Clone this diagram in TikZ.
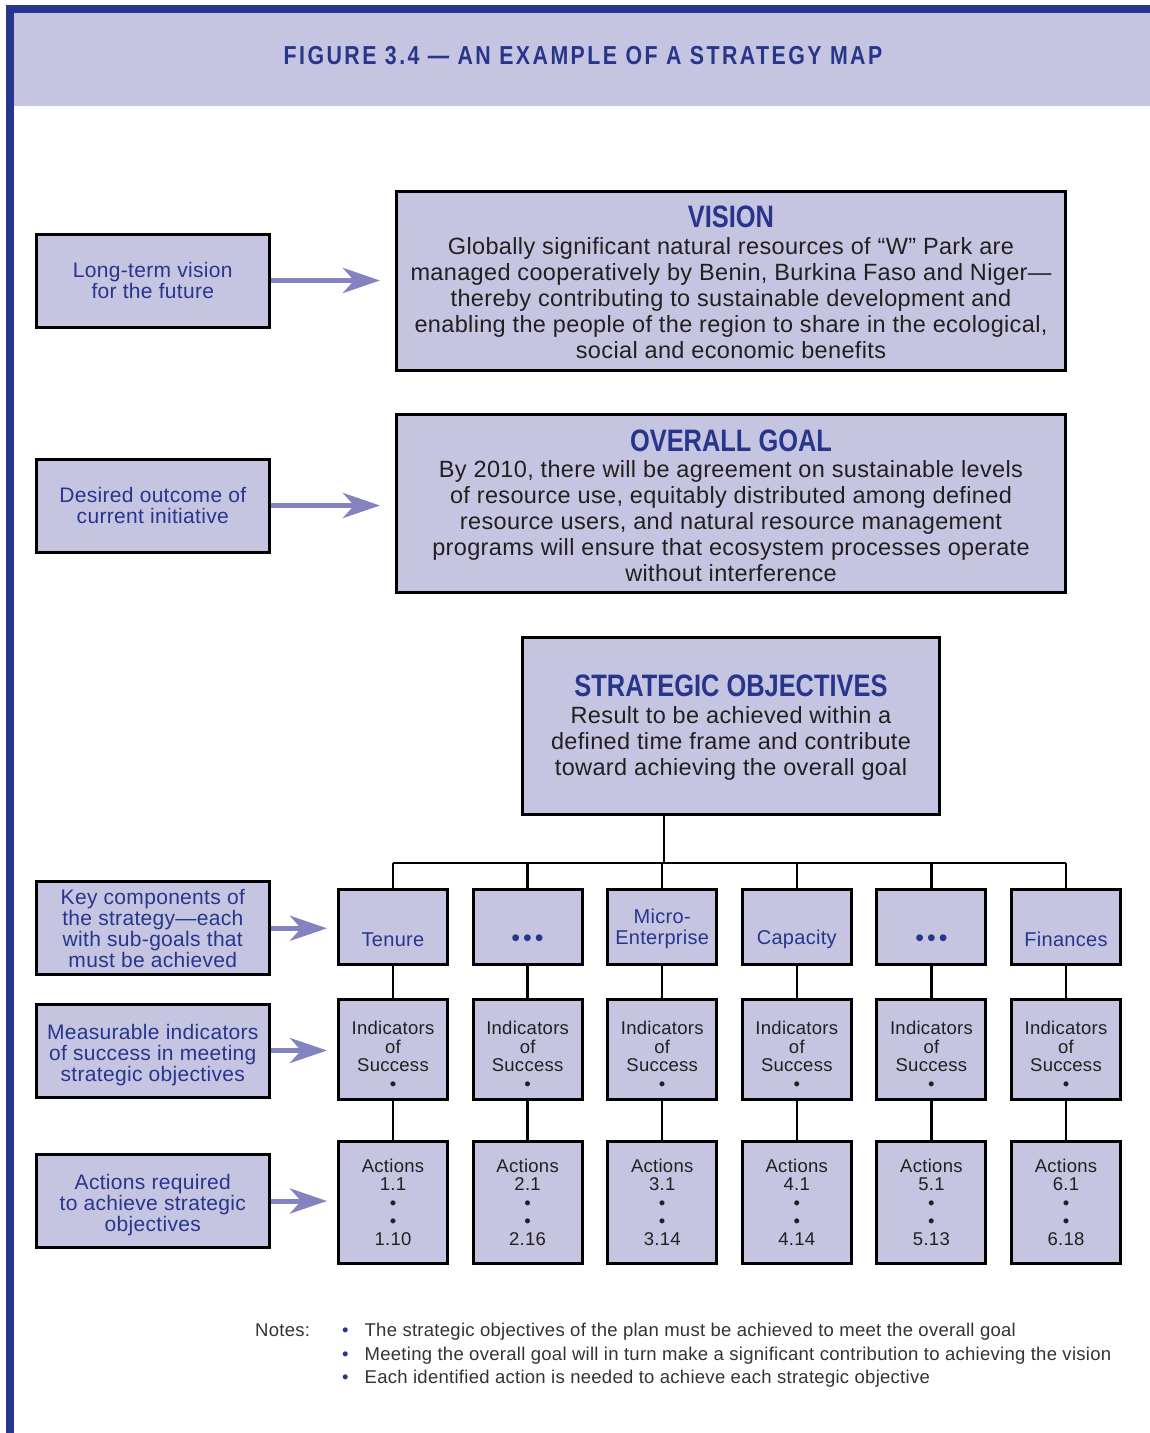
\documentclass[tikz,border=0pt]{standalone}
\usepackage{fontspec}
\setmainfont{Liberation Sans}[LetterSpace=1.5]
\newfontfamily\condfont[FakeStretch=0.82]{Liberation Sans}
\newfontfamily\headfont[FakeStretch=0.82,LetterSpace=9.5]{Liberation Sans}
\usetikzlibrary{arrows.meta,calc}
\definecolor{lav}{HTML}{C5C5E1}
\definecolor{navy}{HTML}{27358C}
\definecolor{arrowc}{HTML}{8383C1}
\definecolor{ink}{HTML}{231F20}
\definecolor{notec}{HTML}{333333}
\newcommand{\bigdots}{{\fontsize{25}{21}\selectfont•\kern3pt•\kern3pt•}}
\tikzset{
  box/.style={draw=black, line width=3pt, fill=lav, inner sep=0pt},
  leftbox/.style={box, minimum width=232.5pt, minimum height=93pt, text=navy, align=center, font=\fontsize{21}{21}\selectfont},
  bigtitle/.style={text=navy, inner sep=0pt, font=\condfont\bfseries\fontsize{31}{32}\selectfont},
  bodytext/.style={text=ink, align=center, inner sep=0pt, font=\fontsize{23.5}{26}\selectfont},
  colbox/.style={box, minimum width=109pt, minimum height=75pt, text=navy, align=center, font=\fontsize{20}{21}\selectfont},
  indbox/.style={box, minimum width=109pt, minimum height=100pt, text=ink, align=center, font=\fontsize{18.5}{18.5}\selectfont},
  actbox/.style={box, minimum width=109pt, minimum height=122pt, text=ink, align=center, font=\fontsize{18.5}{18.3}\selectfont},
  arr/.style={draw=arrowc, line width=5pt, -{Stealth[length=37pt,width=25pt,inset=11pt,fill=arrowc]}},
  tree/.style={draw=black, line width=2.5pt},
  notetext/.style={text=notec, inner sep=0pt, anchor=base west, font=\fontsize{18.5}{20}\selectfont}
}
\begin{document}
\begin{tikzpicture}[x=1pt,y=-1pt]
\useasboundingbox (0,0) rectangle (1150,1433);
\fill[white] (0,0) rectangle (1150,1433);
\fill[lav] (14,13) rectangle (1150,106);
\fill[navy] (6,5) rectangle (1150,13);
\fill[navy] (6,5) rectangle (14,1433);
\node[text=navy, inner sep=0pt, font=\headfont\bfseries\fontsize{26}{28}\selectfont] (head) at (583,56) {FIGURE 3.4 — AN EXAMPLE OF A STRATEGY MAP};

% left explanation boxes
\node[leftbox] (lb1) at (152.8,280.5) {Long-term vision\\for the future};
\node[leftbox] (lb2) at (152.8,505.5) {Desired outcome of\\current initiative};
\node[leftbox] (lb3) at (152.8,928.3) {Key components of\\the strategy—each\\with sub-goals that\\must be achieved};
\node[leftbox] (lb4) at (152.8,1050.5) {\rule{0pt}{24pt}Measurable indicators\\of success in meeting\\strategic objectives};
\node[leftbox] (lb5) at (152.8,1201) {\rule{0pt}{24pt}Actions required\\to achieve strategic\\objectives};

% vision
\node[box, minimum width=669pt, minimum height=179pt] (vision) at (731,281) {};
\node[bigtitle] (visiont) at (731,217) {VISION};
\node[bodytext] (visionb) at (731,298) {Globally significant natural resources of “W” Park are\\managed cooperatively by Benin, Burkina Faso and Niger—\\thereby contributing to sustainable development and\\enabling the people of the region to share in the ecological,\\social and economic benefits};

% overall goal
\node[box, minimum width=669pt, minimum height=178pt] (goal) at (731,503.5) {};
\node[bigtitle] (goalt) at (731,441) {OVERALL GOAL};
\node[bodytext] (goalb) at (731,521) {By 2010, there will be agreement on sustainable levels\\of resource use, equitably distributed among defined\\resource users, and natural resource management\\programs will ensure that ecosystem processes operate\\without interference};

% strategic objectives
\node[box, minimum width=417pt, minimum height=177pt] (so) at (731,726) {};
\node[bigtitle] (sot) at (731,686) {STRATEGIC OBJECTIVES};
\node[bodytext] (sob) at (731,743) {Result to be achieved within a\\defined time frame and contribute\\toward achieving the overall goal};

% columns
\foreach \i/\x/\lab/\last in {1/393/{\strut\\Tenure}/1.10, 2/527.6/{\strut\\\bigdots}/2.16, 3/662.2/{\strut Micro-\\Enterprise}/3.14, 4/796.8/{\strut\\Capacity}/4.14, 5/931.4/{\strut\\\bigdots}/5.13, 6/1066/{\strut\\Finances}/6.18}{
  \node[colbox] (c\i) at (\x,927) {\rule{0pt}{18pt}\lab};
  \node[indbox] (i\i) at (\x,1049.5) {\rule{0pt}{26pt}Indicators\\of\\Success\\•};
  \node[actbox] (a\i) at (\x,1202.5) {Actions\\\i.1\\•\\•\\\last};
}

% tree connectors
\coordinate (stem) at (664,863);
\draw[tree] (stem |- so.south) -- (stem);
\draw[tree] (c1.north |- stem) -- (c6.north |- stem);
\foreach \i in {1,...,6}{
  \draw[tree] (c\i.north |- stem) -- (c\i.north);
  \draw[tree] (c\i.south) -- (i\i.north);
  \draw[tree] (i\i.south) -- (a\i.north);
}

% arrows
\draw[arr, shorten >=15pt] (lb1.east) -- (lb1.east -| vision.west);
\draw[arr, shorten >=15pt] (lb2.east) -- (lb2.east -| goal.west);
\draw[arr, shorten >=10pt] (lb3.east) -- (lb3.east -| c1.west);
\draw[arr, shorten >=10pt] (lb4.east) -- (lb4.east -| i1.west);
\draw[arr, shorten >=10pt] (lb5.east) -- (lb5.east -| a1.west);

% notes
\node[notetext] (notes) at (255,1336) {Notes:};
\node[notetext] (n1) at (342,1336) {\textcolor{navy}{•}\hspace{16pt}The strategic objectives of the plan must be achieved to meet the overall goal};
\node[notetext] (n2) at (342,1360) {\textcolor{navy}{•}\hspace{16pt}Meeting the overall goal will in turn make a significant contribution to achieving the vision};
\node[notetext] (n3) at (342,1383) {\textcolor{navy}{•}\hspace{16pt}Each identified action is needed to achieve each strategic objective};
\end{tikzpicture}
\end{document}
